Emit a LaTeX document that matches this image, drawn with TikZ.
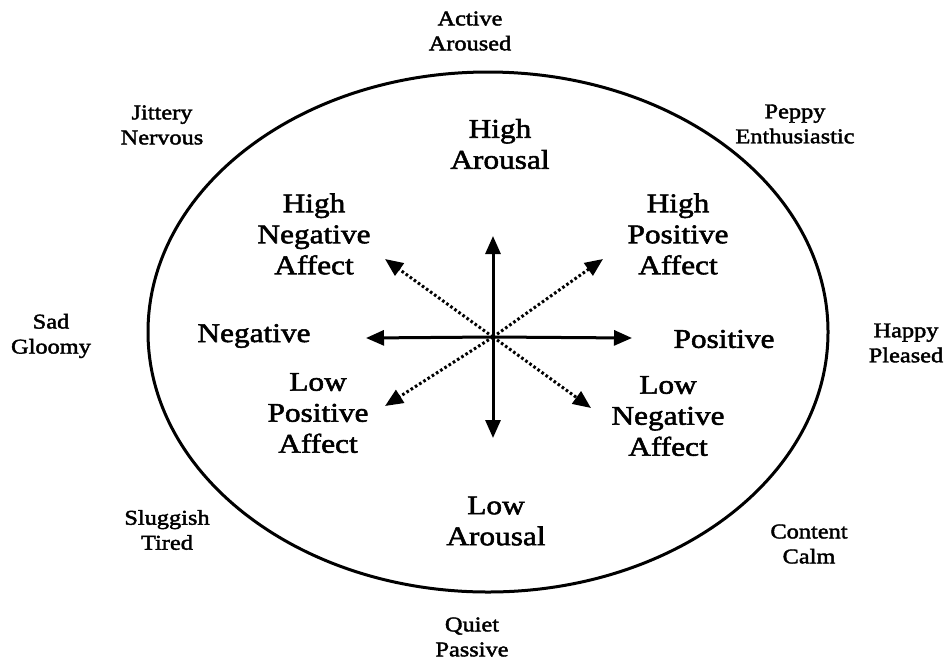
\documentclass[tikz,border=0pt]{standalone}
\usepackage{fontspec}
\setmainfont{Liberation Serif}[FakeStretch=1.16,FakeBold=2]
\usetikzlibrary{arrows.meta}
\begin{document}
\begin{tikzpicture}[x=1pt,y=-1pt,
  outer/.style={align=center,font=\fontsize{21}{25}\selectfont,inner sep=0pt},
  inner/.style={align=center,font=\fontsize{27}{31}\selectfont,inner sep=0pt},
  axis/.style={line width=3pt,-{Triangle[length=18pt,width=15pt]}},
  diag/.style={line width=3pt,dash pattern=on 2.6pt off 2.4pt,-{Triangle[length=18pt,width=15pt]}}]
\useasboundingbox (0,0) rectangle (949,662);
\draw[line width=3pt] (488,332) ellipse [x radius=340, y radius=260];
% outer labels
\node[outer] (active) at (470,31) {Active\\Aroused};
\node[outer] (jittery) at (162,125) {Jittery\\Nervous};
\node[outer] (peppy) at (795,124) {Peppy\\Enthusiastic};
\node[outer] (sad) at (51,336) {Sad\\Gloomy};
\node[outer] (happy) at (906,343) {Happy\\Pleased};
\node[outer] (sluggish) at (167,530) {Sluggish\\Tired};
\node[outer] (content) at (809,544) {Content\\Calm};
\node[outer] (quiet) at (472,637) {Quiet\\Passive};
% inner labels
\node[inner] (ha) at (500,144) {High\\Arousal};
\node[inner] (hna) at (314,234) {High\\Negative\\Affect};
\node[inner] (hpa) at (678,234) {High\\Positive\\Affect};
\node[inner] (neg) at (254,336) {Negative};
\node[inner] (pos) at (724,339) {Positive};
\node[inner] (lpa) at (318,413) {Low\\Positive\\Affect};
\node[inner] (lna) at (668,416) {Low\\Negative\\Affect};
\node[inner] (la) at (496,521) {Low\\Arousal};
% arrows
\coordinate (c) at (493,337);
\coordinate (tn) at (493,236);
\coordinate (ts) at (493,438);
\coordinate (tw) at (366,338);
\coordinate (te) at (632,338);
\coordinate (tnw) at (385,259);
\coordinate (tne) at (603,259);
\coordinate (tsw) at (385,406);
\coordinate (tse) at (591,408);
\draw[axis] (c) -- (tn);
\draw[axis] (c) -- (ts);
\draw[axis] (c) -- (tw);
\draw[axis] (c) -- (te);
\draw[diag] (c) -- (tnw);
\draw[diag] (c) -- (tne);
\draw[diag] (c) -- (tsw);
\draw[diag] (c) -- (tse);
\end{tikzpicture}
\end{document}
